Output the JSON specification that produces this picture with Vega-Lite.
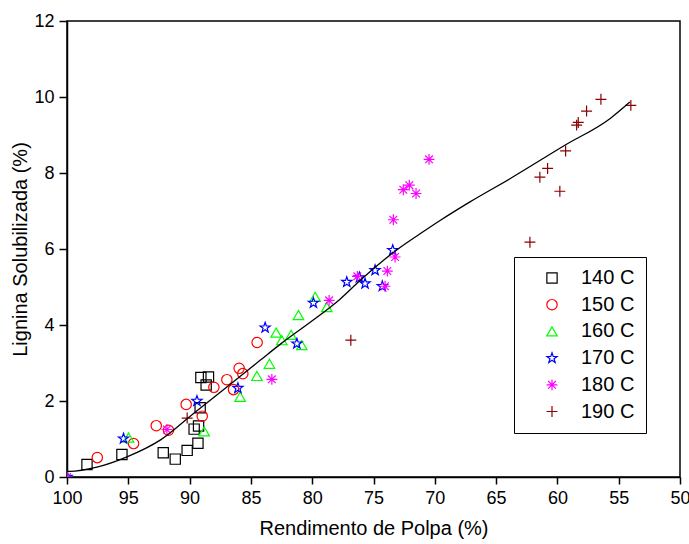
{
  "$schema": "https://vega.github.io/schema/vega-lite/v6.json",
  "width": 613,
  "height": 456,
  "autosize": {"type": "none"},
  "padding": {"left": 67, "top": 21, "right": 9, "bottom": 67},
  "config": {
    "font": "Liberation Sans",
    "view": {"stroke": "black", "strokeWidth": 1.5},
    "axis": {
      "grid": false,
      "domainColor": "black",
      "domainWidth": 1.5,
      "tickColor": "black",
      "tickWidth": 1.5,
      "labelFont": "Liberation Sans",
      "labelFontSize": 18,
      "labelColor": "black",
      "titleFont": "Liberation Sans",
      "titleFontSize": 20,
      "titleFontWeight": "normal",
      "titleColor": "black"
    }
  },
  "layer": [
    {
      "data": {
        "values": [
          {"x": 98.37, "y": 0.33, "T": "140 C"},
          {"x": 95.52, "y": 0.59, "T": "140 C"},
          {"x": 92.15, "y": 0.64, "T": "140 C"},
          {"x": 91.17, "y": 0.47, "T": "140 C"},
          {"x": 90.20, "y": 0.70, "T": "140 C"},
          {"x": 89.32, "y": 0.89, "T": "140 C"},
          {"x": 89.63, "y": 1.26, "T": "140 C"},
          {"x": 89.27, "y": 1.34, "T": "140 C"},
          {"x": 89.14, "y": 1.82, "T": "140 C"},
          {"x": 89.08, "y": 2.62, "T": "140 C"},
          {"x": 88.46, "y": 2.63, "T": "140 C"},
          {"x": 88.65, "y": 2.42, "T": "140 C"},
          {"x": 97.53, "y": 0.51, "T": "150 C"},
          {"x": 94.57, "y": 0.88, "T": "150 C"},
          {"x": 92.72, "y": 1.35, "T": "150 C"},
          {"x": 91.72, "y": 1.23, "T": "150 C"},
          {"x": 90.28, "y": 1.91, "T": "150 C"},
          {"x": 88.97, "y": 1.60, "T": "150 C"},
          {"x": 88.02, "y": 2.36, "T": "150 C"},
          {"x": 86.96, "y": 2.56, "T": "150 C"},
          {"x": 85.96, "y": 2.86, "T": "150 C"},
          {"x": 85.66, "y": 2.72, "T": "150 C"},
          {"x": 86.42, "y": 2.30, "T": "150 C"},
          {"x": 84.49, "y": 3.54, "T": "150 C"},
          {"x": 100.0, "y": 0.0, "T": "160 C"},
          {"x": 94.98, "y": 1.04, "T": "160 C"},
          {"x": 88.81, "y": 1.20, "T": "160 C"},
          {"x": 85.88, "y": 2.11, "T": "160 C"},
          {"x": 84.51, "y": 2.66, "T": "160 C"},
          {"x": 83.49, "y": 2.98, "T": "160 C"},
          {"x": 82.94, "y": 3.80, "T": "160 C"},
          {"x": 82.48, "y": 3.60, "T": "160 C"},
          {"x": 81.72, "y": 3.74, "T": "160 C"},
          {"x": 80.85, "y": 3.47, "T": "160 C"},
          {"x": 81.12, "y": 4.26, "T": "160 C"},
          {"x": 78.81, "y": 4.47, "T": "160 C"},
          {"x": 79.76, "y": 4.74, "T": "160 C"},
          {"x": 100.0, "y": 0.0, "T": "170 C"},
          {"x": 95.39, "y": 1.01, "T": "170 C"},
          {"x": 89.40, "y": 2.00, "T": "170 C"},
          {"x": 86.06, "y": 2.34, "T": "170 C"},
          {"x": 83.84, "y": 3.93, "T": "170 C"},
          {"x": 81.25, "y": 3.51, "T": "170 C"},
          {"x": 79.90, "y": 4.58, "T": "170 C"},
          {"x": 77.18, "y": 5.13, "T": "170 C"},
          {"x": 76.15, "y": 5.25, "T": "170 C"},
          {"x": 75.69, "y": 5.09, "T": "170 C"},
          {"x": 74.87, "y": 5.44, "T": "170 C"},
          {"x": 74.28, "y": 5.02, "T": "170 C"},
          {"x": 73.43, "y": 5.97, "T": "170 C"},
          {"x": 100.0, "y": 0.0, "T": "180 C"},
          {"x": 91.85, "y": 1.25, "T": "180 C"},
          {"x": 83.29, "y": 2.57, "T": "180 C"},
          {"x": 78.62, "y": 4.65, "T": "180 C"},
          {"x": 76.32, "y": 5.28, "T": "180 C"},
          {"x": 74.06, "y": 5.02, "T": "180 C"},
          {"x": 73.87, "y": 5.42, "T": "180 C"},
          {"x": 73.24, "y": 5.79, "T": "180 C"},
          {"x": 73.38, "y": 6.77, "T": "180 C"},
          {"x": 72.57, "y": 7.56, "T": "180 C"},
          {"x": 72.08, "y": 7.68, "T": "180 C"},
          {"x": 71.53, "y": 7.46, "T": "180 C"},
          {"x": 70.47, "y": 8.36, "T": "180 C"},
          {"x": 90.20, "y": 1.55, "T": "190 C"},
          {"x": 76.85, "y": 3.60, "T": "190 C"},
          {"x": 62.24, "y": 6.18, "T": "190 C"},
          {"x": 61.43, "y": 7.89, "T": "190 C"},
          {"x": 60.80, "y": 8.12, "T": "190 C"},
          {"x": 59.80, "y": 7.52, "T": "190 C"},
          {"x": 59.33, "y": 8.58, "T": "190 C"},
          {"x": 58.43, "y": 9.26, "T": "190 C"},
          {"x": 58.30, "y": 9.33, "T": "190 C"},
          {"x": 57.62, "y": 9.63, "T": "190 C"},
          {"x": 56.45, "y": 9.94, "T": "190 C"},
          {"x": 54.01, "y": 9.78, "T": "190 C"}
        ]
      },
      "mark": {"type": "point", "filled": false, "strokeWidth": 1.2, "opacity": 1, "clip": true},
      "encoding": {
        "x": {
          "field": "x",
          "type": "quantitative",
          "title": "Rendimento de Polpa (%)",
          "scale": {"domain": [50, 100], "reverse": true, "nice": false, "zero": false},
          "axis": {
            "values": [50, 52.5, 55, 57.5, 60, 62.5, 65, 67.5, 70, 72.5, 75, 77.5, 80, 82.5, 85, 87.5, 90, 92.5, 95, 97.5, 100],
            "labelExpr": "datum.value % 5 === 0 ? datum.label : ''",
            "tickSize": {"condition": {"test": "datum.value % 5 === 0", "value": 7}, "value": 4},
            "labelPadding": 5,
            "titlePadding": 11,
            "labelFlush": false,
            "labelOverlap": false
          }
        },
        "y": {
          "field": "y",
          "type": "quantitative",
          "title": "Lignina Solubilizada (%)",
          "scale": {"domain": [0, 12], "nice": false, "zero": false},
          "axis": {
            "values": [0, 1, 2, 3, 4, 5, 6, 7, 8, 9, 10, 11, 12],
            "labelExpr": "datum.value % 2 === 0 ? datum.label : ''",
            "tickSize": {"condition": {"test": "datum.value % 2 === 0", "value": 8}, "value": 4},
            "labelPadding": 5,
            "titlePadding": 3,
            "labelFlush": false,
            "labelOverlap": false
          }
        },
        "shape": {
          "field": "T",
          "type": "nominal",
          "scale": {
            "domain": ["140 C", "150 C", "160 C", "170 C", "180 C", "190 C"],
            "range": [
              "square",
              "circle",
              "triangle-up",
              "M0,-1L0.235,-0.324L0.951,-0.309L0.38,0.124L0.588,0.809L0,0.4L-0.588,0.809L-0.38,0.124L-0.951,-0.309L-0.235,-0.324Z",
              "M0,-1L0,1M-1,0L1,0M-0.71,-0.71L0.71,0.71M-0.71,0.71L0.71,-0.71",
              "M0,-1L0,1M-1,0L1,0"
            ]
          },
          "legend": {
            "orient": "none",
            "legendX": 447,
            "legendY": 236,
            "title": null,
            "strokeColor": "black",
            "fillColor": "white",
            "padding": 11,
            "labelFont": "Liberation Sans",
            "labelFontSize": 20,
            "labelColor": "black",
            "rowPadding": 6.7,
            "symbolOffset": 17,
            "labelOffset": 19,
            "symbolStrokeWidth": 1.2
          }
        },
        "color": {
          "field": "T",
          "type": "nominal",
          "scale": {
            "domain": ["140 C", "150 C", "160 C", "170 C", "180 C", "190 C"],
            "range": ["#000000", "#ff0000", "#00ff00", "#0000ff", "#ff00ff", "#8b0000"]
          }
        },
        "size": {
          "field": "T",
          "type": "nominal",
          "scale": {
            "domain": ["140 C", "150 C", "160 C", "170 C", "180 C", "190 C"],
            "range": [105, 120, 180, 240, 230, 140]
          }
        }
      }
    },
    {
      "data": {
        "values": [
          {"x": 100.0, "y": 0.15},
          {"x": 99.79, "y": 0.15},
          {"x": 97.56, "y": 0.26},
          {"x": 95.11, "y": 0.53},
          {"x": 92.40, "y": 0.97},
          {"x": 89.68, "y": 1.67},
          {"x": 86.96, "y": 2.37},
          {"x": 84.25, "y": 3.07},
          {"x": 82.62, "y": 3.49},
          {"x": 80.0, "y": 4.11},
          {"x": 77.73, "y": 4.68},
          {"x": 76.10, "y": 5.17},
          {"x": 74.5, "y": 5.62},
          {"x": 73.0, "y": 6.0},
          {"x": 71.20, "y": 6.40},
          {"x": 69.57, "y": 6.75},
          {"x": 67.13, "y": 7.24},
          {"x": 63.87, "y": 7.85},
          {"x": 59.39, "y": 8.73},
          {"x": 55.72, "y": 9.43},
          {"x": 54.09, "y": 9.87}
        ]
      },
      "mark": {"type": "line", "color": "black", "strokeWidth": 1.3, "interpolate": "monotone"},
      "encoding": {
        "x": {"field": "x", "type": "quantitative"},
        "y": {"field": "y", "type": "quantitative"}
      }
    }
  ]
}
